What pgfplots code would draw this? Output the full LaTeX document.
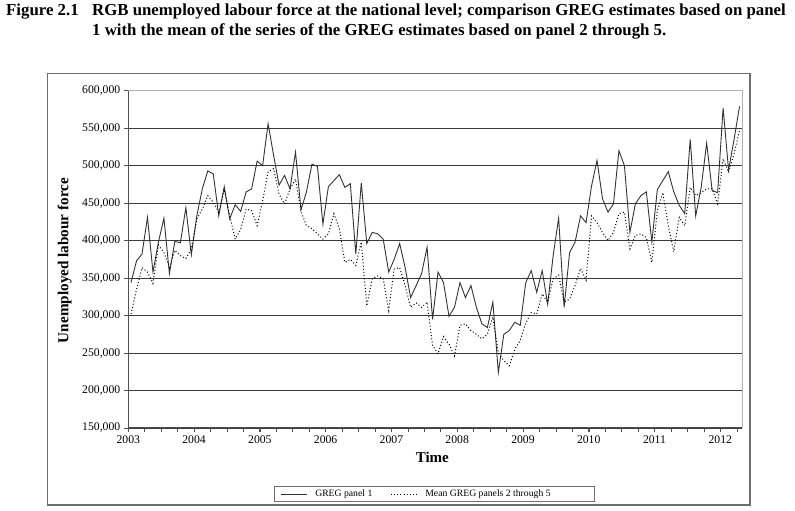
\documentclass[border=0pt]{standalone}
\usepackage{fontspec}
\setmainfont{Liberation Serif}
\usepackage{pgfplots}
\usepackage{pgfplotstable}
\pgfplotsset{compat=1.18}

\definecolor{gridc}{HTML}{3A3A3A}
\definecolor{framec}{HTML}{6E6E6E}
\definecolor{borderc}{HTML}{B0B0B0}
\definecolor{axisc}{HTML}{505050}
\definecolor{linec}{HTML}{333333}

% Monthly estimates, Jan 2003 - Apr 2012 (m = month index)
% a: GREG panel 1, b: mean GREG panels 2 through 5
\pgfplotstableread{
m a b
0 344000 302000
1 373000 335000
2 382000 364000
3 431000 358000
4 358000 343000
5 398000 394000
6 430000 384000
7 356000 364000
8 399000 387000
9 397000 380000
10 444000 376000
11 381000 389000
12 433000 429000
13 469000 442000
14 493000 460000
15 489000 451000
16 433000 438000
17 472000 468000
18 429000 433000
19 448000 402000
20 439000 415000
21 465000 442000
22 469000 440000
23 506000 420000
24 500000 453000
25 556000 492000
26 514000 496000
27 474000 462000
28 487000 449000
29 469000 469000
30 518000 482000
31 441000 439000
32 465000 420000
33 502000 416000
34 499000 409000
35 422000 402000
36 472000 409000
37 480000 436000
38 488000 416000
39 471000 371000
40 476000 375000
41 382000 367000
42 477000 398000
43 396000 313000
44 411000 349000
45 409000 353000
46 402000 349000
47 358000 307000
48 375000 362000
49 396000 364000
50 364000 340000
51 324000 311000
52 340000 317000
53 356000 311000
54 391000 318000
55 295000 260000
56 358000 249000
57 344000 272000
58 299000 262000
59 311000 246000
60 344000 287000
61 324000 289000
62 340000 280000
63 311000 275000
64 289000 269000
65 284000 275000
66 318000 298000
67 224000 250000
68 275000 240000
69 280000 233000
70 291000 255000
71 287000 267000
72 344000 290000
73 360000 304000
74 331000 302000
75 360000 329000
76 315000 318000
77 380000 349000
78 430000 354000
79 311000 318000
80 384000 322000
81 398000 340000
82 433000 363000
83 424000 347000
84 473000 433000
85 507000 424000
86 456000 411000
87 438000 400000
88 449000 411000
89 520000 436000
90 500000 438000
91 411000 389000
92 449000 407000
93 460000 409000
94 465000 404000
95 398000 371000
96 468000 440000
97 480000 464000
98 492000 420000
99 465000 385000
100 447000 431000
101 436000 420000
102 535000 471000
103 433000 460000
104 471000 464000
105 530000 469000
106 467000 469000
107 464000 449000
108 577000 509000
109 494000 491000
110 535000 516000
111 579000 547000
}\greg

\begin{document}
\begin{tikzpicture}
\path[use as bounding box] (0pt,0pt) rectangle (795pt,511pt);

% chart area frame
\draw[framec, line width=1.4pt] (47.7pt,6pt) rectangle (750pt,437.7pt);

% figure caption
\node[anchor=base west, inner sep=0, font=\bfseries\fontsize{16.8}{18}\selectfont] at (6pt,495.5pt) {Figure 2.1};
\node[anchor=base west, inner sep=0, font=\bfseries\fontsize{16.8}{18}\selectfont] at (92pt,495.5pt) {RGB unemployed labour force at the national level; comparison GREG estimates based on panel};
\node[anchor=base west, inner sep=0, font=\bfseries\fontsize{16.8}{18}\selectfont] at (92pt,475.5pt) {1 with the mean of the series of the GREG estimates based on panel 2 through 5.};

\begin{axis}[
  at={(128.3pt,83pt)}, anchor=south west,
  scale only axis, width=614pt, height=337.3pt,
  xmin=2003, xmax=2012.3333,
  ymin=150000, ymax=600000,
  axis lines*=left,
  axis line style={axisc, line width=1pt},
  clip=false,
  xtick={2003,2004,...,2012},
  minor xtick={2003.25,2003.5,...,2012.26},
  ytick={150000,200000,...,600000},
  tick align=outside,
  major tick length=4.5pt, minor tick length=4.5pt,
  tick style={axisc, line width=0.8pt},
  every minor tick/.style={axisc, line width=0.8pt},
  ymajorgrids,
  grid style={gridc, line width=0.8pt},
  scaled y ticks=false,
  /pgf/number format/assume math mode=true,
  yticklabel style={/pgf/number format/fixed, /pgf/number format/1000 sep={,}},
  xticklabel style={/pgf/number format/1000 sep={}},
  ticklabel style={font=\fontsize{11.7}{12}\selectfont},
  legend columns=2,
  legend image code/.code={\draw[#1] (0pt,0pt) -- (26pt,0pt);},
  legend cell align=left,
  legend style={at={(axis description cs:0.4987,-0.1957)}, anchor=center,
    draw=framec, line width=0.8pt, font=\fontsize{9.7}{10}\selectfont,
    inner xsep=5.5pt, inner ysep=1.5pt,
    /tikz/every odd column/.append style={column sep=6pt},
    /tikz/every even column/.append style={column sep=16pt}},
]
\addplot[linec, line width=0.9pt] table[x expr=2003+(\thisrow{m}+0.5)/12, y=a] {\greg};
\addlegendentry{GREG panel 1}
\addplot[black, line width=1pt, dash pattern=on 1pt off 2.2pt] table[x expr=2003+(\thisrow{m}+0.5)/12, y=b] {\greg};
\addlegendentry{Mean GREG panels 2 through 5\rule{36pt}{0pt}}
% plot area border, top and right
\draw[borderc, line width=1.2pt] (rel axis cs:0,1) -- (rel axis cs:1,1) -- (rel axis cs:1,0);
\end{axis}

\node[rotate=90, anchor=base, font=\bfseries\fontsize{15.2}{16}\selectfont] at (68.3pt,250.5pt) {Unemployed labour force};
\node[anchor=base, font=\bfseries\fontsize{15}{16}\selectfont] at (432.3pt,48.3pt) {Time};
\end{tikzpicture}
\end{document}
